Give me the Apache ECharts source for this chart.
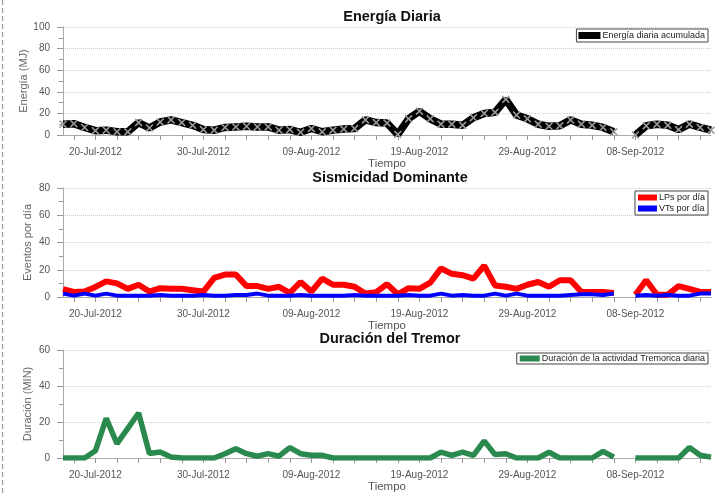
<!DOCTYPE html>
<html>
<head>
<meta charset="utf-8">
<script src="https://cdn.jsdelivr.net/npm/echarts@6/dist/echarts.min.js"></script>
<style>
html,body{margin:0;padding:0;background:#fff;}
#chart{width:725px;height:495px;}
</style>
</head>
<body>
<div id="chart"></div>
<script>
// Categories: daily dates 17-Jul-2012 .. 15-Sep-2012
const dates = [
 '17-Jul-2012','18-Jul-2012','19-Jul-2012','20-Jul-2012','21-Jul-2012','22-Jul-2012','23-Jul-2012','24-Jul-2012',
 '25-Jul-2012','26-Jul-2012','27-Jul-2012','28-Jul-2012','29-Jul-2012','30-Jul-2012','31-Jul-2012',
 '01-Aug-2012','02-Aug-2012','03-Aug-2012','04-Aug-2012','05-Aug-2012','06-Aug-2012','07-Aug-2012','08-Aug-2012',
 '09-Aug-2012','10-Aug-2012','11-Aug-2012','12-Aug-2012','13-Aug-2012','14-Aug-2012','15-Aug-2012','16-Aug-2012',
 '17-Aug-2012','18-Aug-2012','19-Aug-2012','20-Aug-2012','21-Aug-2012','22-Aug-2012','23-Aug-2012','24-Aug-2012',
 '25-Aug-2012','26-Aug-2012','27-Aug-2012','28-Aug-2012','29-Aug-2012','30-Aug-2012','31-Aug-2012',
 '01-Sep-2012','02-Sep-2012','03-Sep-2012','04-Sep-2012','05-Sep-2012','06-Sep-2012','07-Sep-2012','08-Sep-2012',
 '09-Sep-2012','10-Sep-2012','11-Sep-2012','12-Sep-2012','13-Sep-2012','14-Sep-2012','15-Sep-2012'
];

// Energía diaria acumulada (MJ)
const energia = [10,10.5,7,4,4.5,3,3,11.5,6.5,12,14,11.5,9,5,4.5,7,7.5,8,7.5,7.5,4.5,5,2.5,6,3,4.5,5.5,6,14,11.5,
 11,0.5,15,22,15,10,10,9,16,20,21,33,18.5,15,10,8,8.5,14,10,9,7,3,null,0,8.5,10,9,5,10,7,4.5];

// LPs por día
const lps = [5.7,3.7,4,7.4,11.5,10,6,9,4,6.5,6,6,5,4,14,16.5,16.5,8,8,6,7.5,3,11,4,13.5,9,9,7.5,2.5,3.5,
 9.5,2,6.5,6,10.5,21,17,16,13.5,23,8.5,7.5,6,9,11,7.5,12.3,12.3,3.7,3.7,3.7,3,null,1.7,12.3,1.7,1.7,8,6,3.7,3.7];

// VTs por día
const vts = [2.5,1,2.5,1,2.5,1,1,1,1,1.5,1,1,1,1.5,1,1,1.5,1.5,2.5,1,1,1,1.5,1,1,1,1,1.5,1,1,
 1,1,1.5,1,1,2.5,1,1.5,1,1,2.5,1,2.5,1,1,1,1,1.5,2,2,1.5,2.5,null,1,1.5,1,1.5,1,1,2.5,2.5];

// Duración de la actividad Tremorica diaria (MIN)
const tremor = [0,0,0,4,22,8,16.5,25,2.5,3.3,0.5,0,0,0,0,2.4,5.2,2.4,1,2.4,1,5.8,2.4,1.5,1.5,0,0,0,0,0,
 0,0,0,0,0,3.3,1.5,3.3,1.5,9.5,1.9,2.4,0,0,0,3.2,0,0,0,0,3.7,0.5,null,0,0,0,0,0,5.8,1.5,0.5];

const FONT = 'Liberation Sans, Arial, sans-serif';
const grids = [
  {left:63, right:14, top:27, height:108},
  {left:63, right:14, top:188, height:109},
  {left:63, right:14, top:350, height:108}
];
const yMax = [100, 80, 60];
const yNames = ['Energía (MJ)', 'Eventos por día', 'Duración (MIN)'];
const yNameGaps = [34, 30, 30];

function xAxis(gi){
  return {
    type:'category', gridIndex:gi, data:dates, boundaryGap:false,
    name:'Tiempo', nameLocation:'middle', nameGap:22,
    nameTextStyle:{fontSize:11.5, color:'#555', fontFamily:FONT},
    axisLine:{lineStyle:{color:'#aaa', width:1}},
    axisTick:{show:true, length:5, interval:function(i){return i%2===1;}, lineStyle:{color:'#999'}},
    axisLabel:{interval:function(i){return i>=3 && (i-3)%10===0;}, fontSize:10, color:'#555', margin:12, fontFamily:FONT},
    splitLine:{show:false}
  };
}
function yAxis(gi){
  return {
    type:'value', gridIndex:gi, min:0, max:yMax[gi], interval:20,
    name:yNames[gi], nameLocation:'middle', nameGap:yNameGaps[gi], nameMoveOverlap:false,
    nameTextStyle:{fontSize:11, color:'#666', fontFamily:FONT},
    axisLine:{show:true, lineStyle:{color:'#aaa', width:1}},
    axisTick:{show:true, length:6, lineStyle:{color:'#999'}},
    minorTick:{show:true, splitNumber:2, length:4, lineStyle:{color:'#999'}},
    axisLabel:{fontSize:10, color:'#555', margin:13, fontFamily:FONT},
    splitLine:{show:true, lineStyle:{color:'#ccc', type:'dotted', width:1}}
  };
}

const xPath = 'path://M0,1.4 L1.4,0 L5,3.6 L8.6,0 L10,1.4 L6.4,5 L10,8.6 L8.6,10 L5,6.4 L1.4,10 L0,8.6 L3.6,5 Z';

const option = {
  animation:false,
  textStyle:{fontFamily:FONT},
  graphic:[{type:'line', shape:{x1:2.5,y1:0,x2:2.5,y2:495}, style:{stroke:'#999', lineWidth:1.2, lineDash:[5,3]}}],
  title:[
    {text:'Energía Diaria', left:387, top:4, textAlign:'center', textStyle:{fontSize:14.5, fontWeight:'bold', color:'#111', fontFamily:FONT}},
    {text:'Sismicidad Dominante', left:385, top:165, textAlign:'center', textStyle:{fontSize:14.5, fontWeight:'bold', color:'#111', fontFamily:FONT}},
    {text:'Duración del Tremor', left:385, top:326, textAlign:'center', textStyle:{fontSize:14.5, fontWeight:'bold', color:'#111', fontFamily:FONT}}
  ],
  legend:[
    {data:[{name:'Energía diaria acumulada', itemStyle:{color:'#000'}}], right:17, top:29, orient:'vertical',
     icon:'rect', itemWidth:22, itemHeight:7, padding:[2,3,2,2], borderColor:'#444', borderWidth:1, borderRadius:0,
     textStyle:{fontSize:9, color:'#222', fontFamily:FONT, padding:[0,0,0,-3]}},
    {data:['LPs por día','VTs por día'], right:17, top:191, orient:'vertical',
     icon:'rect', itemWidth:19, itemHeight:6, itemGap:2, padding:[2,3,2,3], borderColor:'#444', borderWidth:1, borderRadius:0,
     textStyle:{fontSize:9, color:'#222', fontFamily:FONT, padding:[0,0,0,-3]}},
    {data:['Duración de la actividad Tremorica diaria'], right:17, top:353, orient:'vertical',
     icon:'rect', itemWidth:20, itemHeight:6, padding:[1,3,1,3], borderColor:'#444', borderWidth:1, borderRadius:0,
     textStyle:{fontSize:9, color:'#222', fontFamily:FONT, padding:[0,0,0,-3]}}
  ],
  grid:grids,
  xAxis:[xAxis(0), xAxis(1), xAxis(2)],
  yAxis:[yAxis(0), yAxis(1), yAxis(2)],
  series:[
    {name:'Energía diaria acumulada', type:'line', xAxisIndex:0, yAxisIndex:0, data:energia,
     symbol:xPath, symbolSize:8, showSymbol:true, showAllSymbol:true, itemStyle:{color:'#9a9a9a'},
     lineStyle:{color:'#000', width:7.5}, connectNulls:false},
    {name:'LPs por día', type:'line', xAxisIndex:1, yAxisIndex:1, data:lps, symbol:'none',
     itemStyle:{color:'#ff0000'}, lineStyle:{color:'#ff0000', width:6}},
    {name:'VTs por día', type:'line', xAxisIndex:1, yAxisIndex:1, data:vts, symbol:'none',
     itemStyle:{color:'#0000ff'}, lineStyle:{color:'#0000ff', width:4}},
    {name:'Duración de la actividad Tremorica diaria', type:'line', xAxisIndex:2, yAxisIndex:2, data:tremor, symbol:'none',
     itemStyle:{color:'#2a8a4e'}, lineStyle:{color:'#2a8a4e', width:5.5}}
  ]
};
const chart = echarts.init(document.getElementById('chart'), null, {renderer:'canvas'});
chart.setOption(option);
</script>
</body>
</html>
